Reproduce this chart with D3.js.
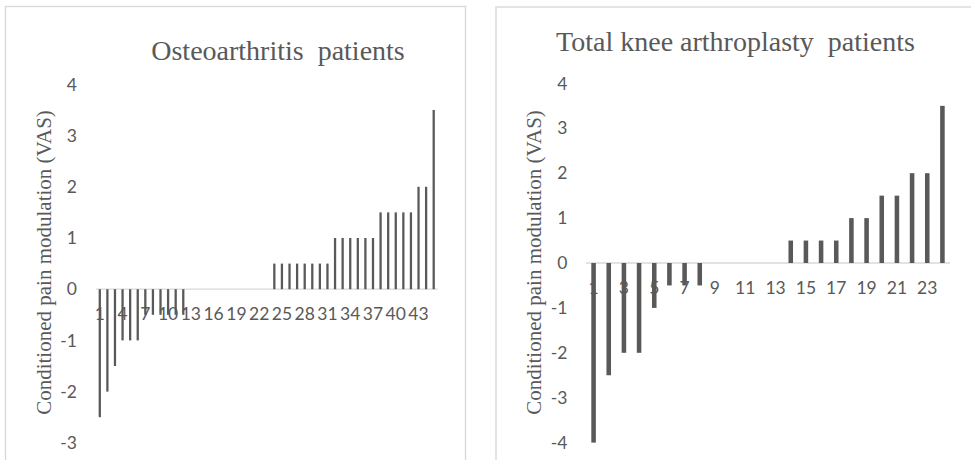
<!DOCTYPE html>
<html>
<head>
<meta charset="utf-8">
<script src="https://cdn.jsdelivr.net/npm/d3@7"></script>
<style>
  html, body { margin: 0; padding: 0; background: #ffffff; }
  svg { display: block; }
</style>
</head>
<body>
<svg id="chart" width="971" height="460"></svg>
<script>
// ---------------- DATA ----------------
const oaTitle = "Osteoarthritis  patients";
const tkaTitle = "Total knee arthroplasty  patients";
const yAxisTitle = "Conditioned pain modulation (VAS)";

const oaCategories = ["1","2","3","4","5","6","7","8","9","10","11","12","13","14","15","16","17","18","19","20","21","22","23","24","25","26","27","28","29","30","31","32","33","34","35","36","37","38","39","40","41","42","43","44","45"];
const oaValues = [-2.5,-2,-1.5,-1,-1,-1,-0.5,-0.5,-0.5,-0.5,-0.5,-0.5,0,0,0,0,0,0,0,0,0,0,0,0.5,0.5,0.5,0.5,0.5,0.5,0.5,0.5,1,1,1,1,1,1,1.5,1.5,1.5,1.5,1.5,2,2,3.5];
const oaXTickLabels = ["1","4","7","10","13","16","19","22","25","28","31","34","37","40","43"];
const oaYTicks = [-3,-2,-1,0,1,2,3,4];

const tkaCategories = ["1","2","3","4","5","6","7","8","9","10","11","12","13","14","15","16","17","18","19","20","21","22","23","24"];
const tkaValues = [-4,-2.5,-2,-2,-1,-0.5,-0.5,-0.5,0,0,0,0,0,0.5,0.5,0.5,0.5,1,1,1.5,1.5,2,2,3.5];
const tkaXTickLabels = ["1","3","5","7","9","11","13","15","17","19","21","23"];
const tkaYTicks = [-4,-3,-2,-1,0,1,2,3,4];

// ---------------- DRAW ----------------
const svg = d3.select("#chart");
const GREY = "#595959";
const LIGHT = "#d9d9d9";
const tickFont = "Lato, 'Open Sans', sans-serif";
const serif = "'Liberation Serif', 'DejaVu Serif', serif";

function drawPanel(cfg) {
  const g = svg.append("g");
  // frame
  g.append("rect")
    .attr("x", cfg.frame[0]).attr("y", cfg.frame[1])
    .attr("width", cfg.frame[2]).attr("height", cfg.frame[3])
    .attr("fill", "none").attr("stroke", LIGHT).attr("stroke-width", 1.4);

  // title
  g.append("text")
    .attr("x", cfg.titlePos[0]).attr("y", cfg.titlePos[1])
    .attr("text-anchor", "middle")
    .attr("font-family", serif).attr("font-size", 28)
    .attr("fill", GREY)
    .style("white-space", "pre")
    .attr("xml:space", "preserve")
    .text(cfg.title);

  // y axis title
  g.append("text")
    .attr("transform", `translate(${cfg.yTitlePos[0]},${cfg.yTitlePos[1]}) rotate(-90)`)
    .attr("text-anchor", "middle")
    .attr("font-family", serif).attr("font-size", 21)
    .attr("fill", GREY)
    .text(yAxisTitle);

  const x = d3.scaleBand()
    .domain(cfg.categories)
    .range(cfg.xRange)
    .paddingInner(0.7)
    .paddingOuter(0.35);

  const y = d3.scaleLinear()
    .domain(cfg.yDomain)
    .range(cfg.yRange);

  const y0 = y(0);

  // y axis labels
  const yAxis = d3.axisLeft(y).tickValues(cfg.yTicks).tickSize(0).tickPadding(cfg.yPad)
    .tickFormat(d => String(d));
  const yg = g.append("g").attr("transform", `translate(${cfg.xRange[0]},0)`).call(yAxis);
  yg.select(".domain").remove();
  yg.selectAll("text").attr("font-family", tickFont).attr("font-size", 17.5).attr("fill", GREY);

  // x axis labels (drawn under bars)
  const xAxis = d3.axisBottom(x).tickValues(cfg.xTickLabels).tickSize(0).tickPadding(18.6);
  const xg = g.append("g").attr("transform", `translate(0,${y0})`).call(xAxis);
  xg.select(".domain").remove();
  xg.selectAll("text").attr("font-family", tickFont).attr("font-size", 17.5).attr("fill", GREY);

  // zero line
  g.append("line")
    .attr("x1", cfg.xRange[0]).attr("x2", cfg.xRange[1])
    .attr("y1", y0).attr("y2", y0)
    .attr("stroke", LIGHT).attr("stroke-width", 1.3);

  // bars
  g.append("g").selectAll("rect")
    .data(cfg.values.map((v, i) => ({ c: cfg.categories[i], v })))
    .join("rect")
    .attr("x", d => x(d.c))
    .attr("width", x.bandwidth())
    .attr("y", d => Math.min(y(d.v), y0))
    .attr("height", d => Math.abs(y(d.v) - y0))
    .attr("fill", GREY);
}

drawPanel({
  frame: [5.5, 6.5, 460, 480],
  title: oaTitle,
  titlePos: [278, 60],
  yTitlePos: [51, 262.5],
  categories: oaCategories,
  values: oaValues,
  xTickLabels: oaXTickLabels,
  yTicks: oaYTicks,
  xRange: [96, 437.5],
  yDomain: [-3, 4],
  yRange: [442.8, 84.4],
  yPad: 19
});

drawPanel({
  frame: [496, 7, 520, 480],
  title: tkaTitle,
  titlePos: [735.5, 51],
  yTitlePos: [541, 262.5],
  categories: tkaCategories,
  values: tkaValues,
  xTickLabels: tkaXTickLabels,
  yTicks: tkaYTicks,
  xRange: [586, 950],
  yDomain: [-4, 4],
  yRange: [442.6, 83.4],
  yPad: 18.5
});
</script>
</body>
</html>
